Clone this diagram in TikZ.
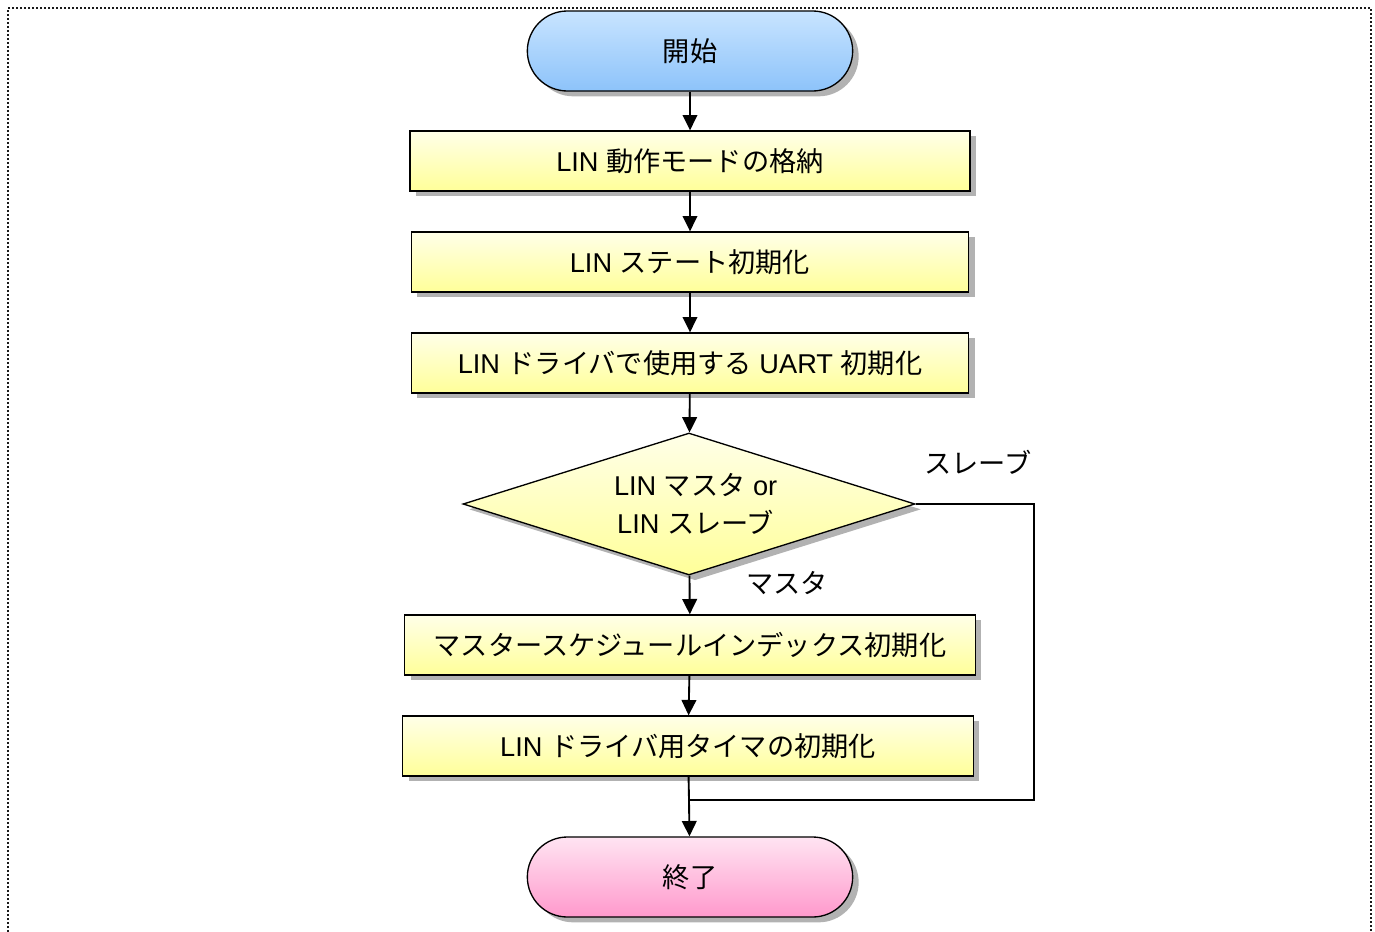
\documentclass[tikz,border=0pt]{standalone}
\usepackage{fontspec}
\setmainfont{Liberation Sans}
\newfontfamily\jp{Noto Sans CJK JP}
\usepackage{tikz}
\usetikzlibrary{arrows.meta,shapes.geometric,shadows}

\definecolor{startTop}{HTML}{C8E4FF}
\definecolor{startBot}{HTML}{8DC3FA}
\definecolor{endTop}{HTML}{FFE4F2}
\definecolor{endBot}{HTML}{FF99CC}
\definecolor{boxTop}{HTML}{FFFFE8}
\definecolor{boxBot}{HTML}{FFFF99}

\begin{document}
\begin{tikzpicture}[x=0.75pt, y=-0.75pt, every node/.style={font=\fontsize{20.4}{29}\selectfont}, >={Triangle[width=11pt,length=11.5pt]},
	shade/.style={drop shadow={shadow xshift=4.5pt, shadow yshift=-4pt, fill=black!30, opacity=1}},
	terminal/.style={rectangle, rounded corners=30pt, draw, line width=1pt, minimum width=244pt, minimum height=60pt, shade},
	procbox/.style={rectangle, draw, line width=1pt, minimum width=420pt, minimum height=45pt, top color=boxTop, bottom color=boxBot, shade},
	decision/.style={diamond, draw, line width=1pt, aspect=3.18, minimum width=339pt, minimum height=106.5pt, inner sep=0pt, align=center, top color=boxTop, bottom color=boxBot, shade},
	conn/.style={line width=1.4pt}]
	\useasboundingbox (0,0) rectangle (1375,932);
	\draw[line width=1.1pt, black!90, dash pattern=on 1.5pt off 1.5pt] (8,932) -- (8,8) -- (1371,8) -- (1371,932);

	\node[terminal, top color=startTop, bottom color=startBot] (start) at (690,51) {\jp 開始};
	\node[procbox] (store) at (690,161) {LIN {\jp 動作モードの格納}};
	\node[procbox, minimum width=418pt] (state) at (690,262) {LIN {\jp ステート初期化}};
	\node[procbox, minimum width=418pt] (uart) at (690,363) {LIN {\jp ドライバで使用する} UART {\jp 初期化}};
	\node[decision] (mode) at (689,504) {\hspace*{10pt}LIN {\jp マスタ} or\\\hspace*{10pt}LIN {\jp スレーブ}};
	\node[procbox, minimum width=428pt] (sched) at (690,645) {\jp マスタースケジュールインデックス初期化};
	\node[procbox, minimum width=428pt] (timer) at (688,746) {LIN {\jp ドライバ用タイマの初期化}};
	\node[terminal, top color=endTop, bottom color=endBot] (finish) at (690,877) {\jp 終了};

	\node (slavelab) at (978,462) {\jp スレーブ};
	\node (masterlab) at (787,583) {\jp マスタ};

	\coordinate (merge) at (689,800);
	\coordinate (bypass) at (1034,800);

	\draw[conn,->] (start) -- (store);
	\draw[conn,->] (store) -- (state);
	\draw[conn,->] (state) -- (uart);
	\draw[conn,->] (uart) -- (mode);
	\draw[conn,->] (mode) -- (sched);
	\draw[conn,->] (sched) -- (timer);
	\draw[conn] (timer) -- (merge);
	\draw[conn,->] (merge) -- (finish);
	\draw[conn] (mode.east) -| (bypass) -- (merge);
\end{tikzpicture}
\end{document}
